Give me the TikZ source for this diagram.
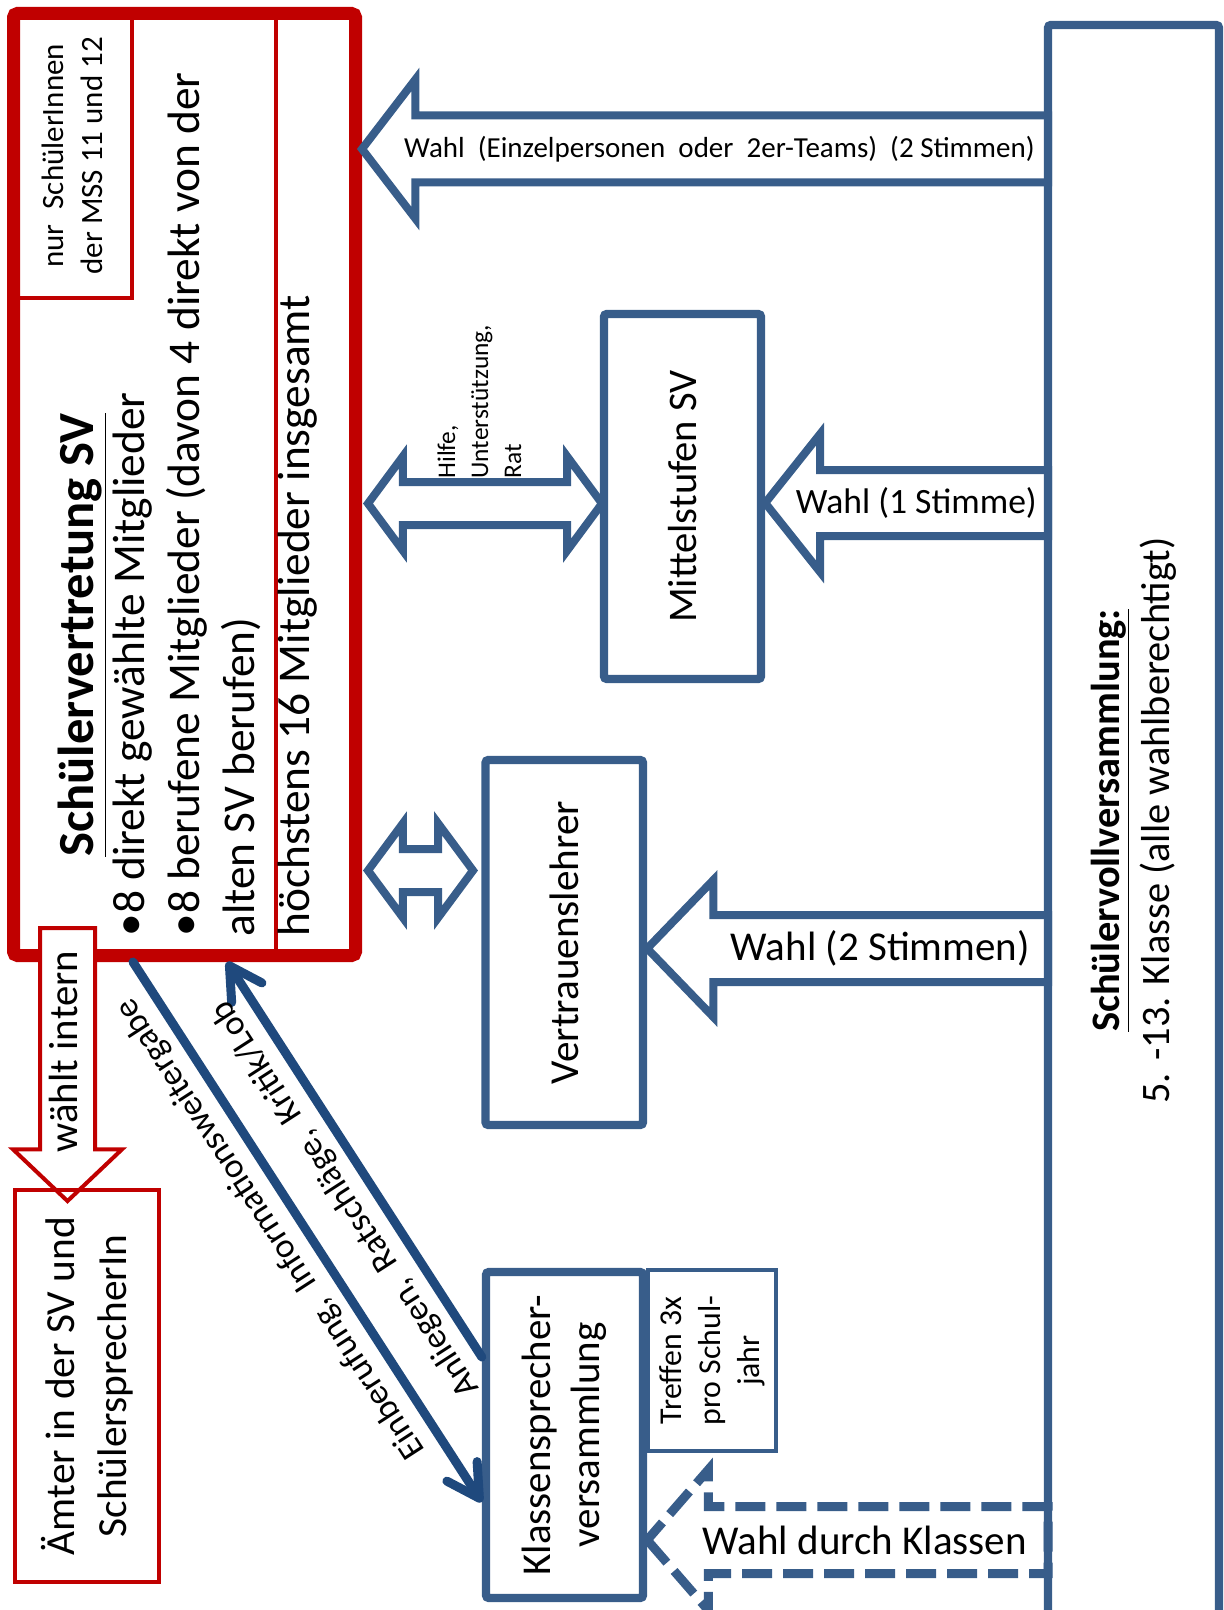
\documentclass[tikz,border=0pt]{standalone}
\usepackage{fontspec}
\setmainfont{Carlito}
\usetikzlibrary{positioning,shapes.arrows,arrows.meta}
\definecolor{svred}{HTML}{C00000}
\definecolor{svblue}{HTML}{385D8A}
\definecolor{svnavy}{HTML}{1F497D}
\newcommand{\fsz}[2]{\fontsize{#1}{#2}\selectfont}
\tikzset{infotip/.tip={Straight Barb[length=16pt,width=18pt,round]}}

\begin{document}
\begin{tikzpicture}[
        x=0.5pt, y=-0.5pt,
        every node/.style={inner sep=0pt},
        redframe/.style={draw=svred, line width=2pt, align=center},
        blueframe/.style={draw=svblue, line width=4.2pt, fill=white, rounded corners=1.5pt, align=center},
        thinblue/.style={draw=svblue, line width=2.2pt, fill=white, align=center},
        votearrow/.style={single arrow, shape border rotate=180, draw=svblue, line width=4pt, fill=white,
            outer sep=0pt, inner xsep=0pt, inner ysep=14.75pt, anchor=tip},
        helparrow/.style={double arrow, draw=svblue, line width=4pt, fill=white, outer sep=0pt,
            inner xsep=0pt, inner ysep=8.75pt, double arrow head extend=12.75pt, minimum width=43pt, double arrow tip angle=107},
        infoarrow/.style={draw=svnavy, line width=4.5pt, line cap=round}
    ]
        \useasboundingbox (0,0) rectangle (1223,1610);
        \clip (0,0) rectangle (1223,1610);

        % Schuelervertretung
        \node[draw=svred, line width=6.5pt, fill=white, rounded corners=2pt, minimum width=171pt, minimum height=471pt] (sv) at (184.5,484.5) {};
        \draw[svred, line width=2pt] (276,20) -- (276,949);
        \node[redframe, rotate=90, minimum width=142.25pt, minimum height=59.25pt, font=\fsz{15.5}{19.5}] (mss) at (72.75,155.75) {nur\hspace{4pt} SchülerInnen\\der MSS 11 und 12};
        \node[rotate=90, anchor=north west, align=left, font=\fsz{22.7}{27.5}] (svtext) at (58,937)
            {\hspace*{40pt}{\fsz{25.3}{30}\bfseries\underline{Schülervertretung SV}}\\[-2pt]•8 direkt gewählte Mitglieder\\•8 berufene Mitglieder (davon 4 direkt von der\\alten SV berufen)\\höchstens 16 Mitglieder insgesamt};

        % Aemter
        \node[single arrow, rotate=90, shape border rotate=180, draw=svred, line width=2pt, fill=white, outer sep=0pt,
            inner xsep=0pt, inner ysep=2.75pt, text height=15pt, text depth=5pt,
            single arrow head extend=13.5pt, minimum width=52.5pt, minimum height=136.5pt, single arrow tip angle=93,
            font=\fsz{20.4}{24}] (intern) at (67.5,1051.5) {wählt intern};
        \node[redframe, rotate=90, minimum width=196pt, minimum height=72pt, font=\fsz{20.7}{26}] (aemter) at (87,1386) {Ämter in der SV und\\SchülersprecherIn};

        % Blue boxes
        \node[blueframe, rotate=90, minimum width=182.5pt, minimum height=78.5pt, font=\fsz{20.3}{24}] (ms) at (682.5,496.5) {Mittelstufen SV};
        \node[blueframe, rotate=90, minimum width=182.5pt, minimum height=78.75pt, font=\fsz{20.6}{24}] (vl) at (564.25,942.5) {Vertrauenslehrer};
        \node[thinblue, rotate=90, minimum width=90.5pt, minimum height=64pt, font=\fsz{15.9}{19.5}] (treffen) at (712,1360.5) {Treffen 3x\\pro Schul-\\jahr};
        \node[blueframe, rotate=90, minimum width=163pt, minimum height=78.5pt, font=\fsz{20.5}{24.5}] (ksv) at (564.5,1435) {Klassensprecher-\\versammlung};

        % Double arrows
        \node[helparrow, minimum height=117pt] (hilfe) at (485,503.5) {};
        \node[helparrow, minimum height=52.5pt] (vertrauen) at (420.5,870.5) {};
        \node[rotate=90, anchor=north west, align=left, font=\fsz{12.7}{16.5}] (hilfetext) at (437,479) {Hilfe,\\Unterstützung,\\Rat};

        % Wahl arrows
        \node[votearrow, minimum height=343pt, minimum width=66pt, single arrow head extend=18pt, single arrow tip angle=105] (wahlsv) at (sv.east |- 0,149) {};
        \node[votearrow, inner ysep=14.5pt, minimum height=141.5pt, minimum width=65pt, single arrow head extend=18pt, single arrow tip angle=103] (wahlms) at (ms.south |- 0,503) {};
        \node[votearrow, minimum height=200.5pt, minimum width=64.5pt, single arrow head extend=17.5pt, single arrow tip angle=92] (wahlvl) at (vl.south |- 0,948.5) {};
        \node[votearrow, inner ysep=14.5pt, line width=4.5pt, dash pattern=on 15pt off 5.5pt, minimum height=200.5pt, minimum width=66pt, single arrow head extend=18.5pt, single arrow tip angle=98] (wahlksv) at (ksv.south |- 0,1540) {};

        \node[font=\fsz{14.5}{17}, left=6.5pt of wahlsv.tail] (wahlsvtext) {Wahl\ \ (Einzelpersonen\ \ oder\ \ 2er-Teams)\ \ (2 Stimmen)};
        \node[font=\fsz{17.8}{21}, left=5.5pt of wahlms.tail] (wahlmstext) {Wahl (1 Stimme)};
        \node[font=\fsz{20.5}{24}, left=9pt of wahlvl.tail] (wahlvltext) {Wahl (2 Stimmen)};
        \node[font=\fsz{20.5}{24}, left=10.5pt of wahlksv.tail] (wahlksvtext) {Wahl durch Klassen};

        % Diagonal arrows
        \draw[infoarrow, infotip-] (ksv.north |- 0,1502) -- node[pos=0.535, sloped, allow upside down, above=4.5pt, font=\fsz{17.5}{20}] (einbtext) {Einberufung,\ \ Informationsweitergabe} (sv.south -| 133,0);
        \draw[infoarrow, -infotip] (ksv.north |- 0,1357) -- node[pos=0.44, sloped, allow upside down, above=4.5pt, font=\fsz{17.5}{20}] (anltext) {Anliegen,\ \ Ratschläge,\ \ Kritik/Lob} (sv.south -| 227,0);

        % Schuelervollversammlung
        \node[blueframe, fill=none, rotate=90, minimum width=795.5pt, minimum height=85.5pt, font=\fsz{20.2}{25}] (svv) at (1133.5,820.5)
            {\textbf{\underline{Schülervollversammlung:}}\\5. -13. Klasse (alle wahlberechtigt)};
    \end{tikzpicture}
\end{document}
